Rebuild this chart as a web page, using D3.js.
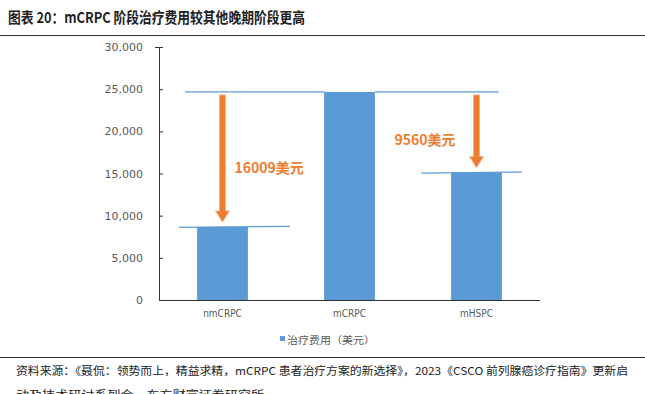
<!DOCTYPE html>
<html>
<head>
<meta charset="utf-8">
<script src="https://cdn.jsdelivr.net/npm/d3@7"></script>
<style>
  body { margin: 0; background: #fff; }
  text { font-family: "Noto Sans CJK SC", "DejaVu Sans", sans-serif; }
</style>
</head>
<body>
<div id="chart"></div>
<script>
// data
var categories = ["nmCRPC", "mCRPC", "mHSPC"];
var costs = [8660, 24669, 15109];
var yTicks = [0, 5000, 10000, 15000, 20000, 25000, 30000];
var gapLabels = ["16009美元", "9560美元"];
var seriesName = "治疗费用（美元）";

var svgWidth = 645;
var svgHeight = 394;

var margin = { top: 47, right: 105, bottom: 94, left: 159 };
var width = svgWidth - margin.left - margin.right;
var height = svgHeight - margin.top - margin.bottom;

var blue = "#5B9BD5";
var orange = "#ED7D31";

var svg = d3.select("#chart")
  .append("svg")
  .attr("width", svgWidth)
  .attr("height", svgHeight);

// title + rules
svg.append("text")
  .attr("x", 8)
  .attr("y", 23)
  .attr("font-size", 15)
  .attr("font-weight", "bold")
  .attr("fill", "#222")
  .attr("textLength", 297)
  .attr("lengthAdjust", "spacingAndGlyphs")
  .text("图表 20：mCRPC 阶段治疗费用较其他晚期阶段更高");

svg.append("line")
  .attr("x1", 0).attr("x2", svgWidth)
  .attr("y1", 35.5).attr("y2", 35.5)
  .attr("stroke", "#333").attr("stroke-width", 1.2);

svg.append("line")
  .attr("x1", 0).attr("x2", svgWidth)
  .attr("y1", 357.5).attr("y2", 357.5)
  .attr("stroke", "#333").attr("stroke-width", 1.2);

svg.append("text")
  .attr("x", 16).attr("y", 375)
  .attr("font-size", 11).attr("fill", "#222")
  .attr("textLength", 612)
  .attr("lengthAdjust", "spacingAndGlyphs")
  .text("资料来源：《聂侃：领势而上，精益求精，mCRPC 患者治疗方案的新选择》，2023《CSCO 前列腺癌诊疗指南》更新启");

svg.append("text")
  .attr("x", 16).attr("y", 399)
  .attr("font-size", 11).attr("fill", "#222")
  .attr("textLength", 248)
  .attr("lengthAdjust", "spacingAndGlyphs")
  .text("动及技术研讨系列会，东方财富证券研究所");

var chartGroup = svg.append("g")
  .attr("transform", `translate(${margin.left}, ${margin.top})`);

var xScale = d3.scaleBand()
  .domain(categories)
  .range([0, width])
  .paddingInner(0.6)
  .paddingOuter(0.3);

var yScale = d3.scaleLinear()
  .domain([0, 30000])
  .range([height, 0]);

// y axis
var leftAxis = d3.axisLeft(yScale)
  .tickValues(yTicks)
  .tickSize(4)
  .tickFormat(d3.format(","));

var yAxis = chartGroup.append("g").call(leftAxis);
yAxis.select(".domain").attr("stroke", "#333").attr("d", `M-4,0.5H0.5V${height}`);
yAxis.selectAll(".tick line").attr("stroke", "#333").attr("x2", 0).attr("x1", 4);
yAxis.selectAll(".tick text")
  .attr("x", -16)
  .attr("font-size", 11)
  .attr("fill", "#595959")
  .style("font-family", "'DejaVu Sans', sans-serif");

// bars
chartGroup.selectAll("rect.bar")
  .data(costs)
  .enter()
  .append("rect")
  .attr("class", "bar")
  .attr("x", (d, i) => xScale(categories[i]))
  .attr("y", d => yScale(d))
  .attr("width", xScale.bandwidth())
  .attr("height", d => height - yScale(d))
  .attr("fill", blue);

// x axis
var bottomAxis = d3.axisBottom(xScale).tickSize(0);
var xAxis = chartGroup.append("g")
  .attr("transform", `translate(0, ${height})`)
  .call(bottomAxis);
xAxis.select(".domain").attr("stroke", "#333").attr("d", `M0,0.5H${width}`);
xAxis.selectAll(".tick text")
  .attr("dy", 0)
  .attr("y", 17)
  .attr("font-size", 10)
  .attr("fill", "#595959")
  .style("font-family", "'Liberation Sans Narrow', 'DejaVu Sans Condensed', sans-serif");

// reference lines (thin blue)
var bw = xScale.bandwidth();
var x0 = xScale(categories[0]), x1 = xScale(categories[1]), x2 = xScale(categories[2]);
var refLines = [
  [x0 - 12, costs[1], x1, costs[1]],
  [x1 + bw, costs[1], x2 + bw - 3, costs[1]],
  [x0 - 18, costs[0] - 60, x0 + bw + 42, costs[0] + 80],
  [x2 - 30, costs[2] - 60, x2 + bw + 20, costs[2] + 60]
];
chartGroup.selectAll("line.ref")
  .data(refLines)
  .enter()
  .append("line")
  .attr("class", "ref")
  .attr("x1", d => d[0]).attr("y1", d => yScale(d[1]))
  .attr("x2", d => d[2]).attr("y2", d => yScale(d[3]))
  .attr("stroke", blue)
  .attr("stroke-width", 1.3);

// arrows
function arrowPath(cx, yTop, yTip) {
  var sw = 3, hw = 7, hh = 11;
  return `M${cx - sw},${yTop}H${cx + sw}V${yTip - hh}H${cx + hw}L${cx},${yTip}L${cx - hw},${yTip - hh}H${cx - sw}Z`;
}
var arrows = [
  { cx: x0 + bw / 2, from: costs[1], to: costs[0], label: gapLabels[0], lx: x0 + bw / 2 + 12, ly: yScale(15050) },
  { cx: x2 + bw / 2, from: costs[1], to: costs[2], label: gapLabels[1], lx: x2 + bw / 2 - 82, ly: yScale(18400) }
];
chartGroup.selectAll("path.arrow")
  .data(arrows)
  .enter()
  .append("path")
  .attr("class", "arrow")
  .attr("d", d => arrowPath(d.cx, yScale(d.from) + 3, yScale(d.to) - 5))
  .attr("fill", orange)
  .attr("stroke", "#F4B183")
  .attr("stroke-width", 1);

chartGroup.selectAll("text.gap")
  .data(arrows)
  .enter()
  .append("text")
  .attr("class", "gap")
  .attr("x", d => d.lx)
  .attr("y", d => d.ly)
  .attr("font-size", 14)
  .attr("font-weight", "bold")
  .attr("fill", orange)
  .text(d => d.label);

// legend
var legend = svg.append("g").attr("transform", "translate(280, 340)");
legend.append("rect")
  .attr("x", 0).attr("y", -4)
  .attr("width", 5).attr("height", 5)
  .attr("fill", blue);
legend.append("text")
  .attr("x", 7).attr("y", 1)
  .attr("dominant-baseline", "middle")
  .attr("font-size", 10)
  .attr("fill", "#595959")
  .attr("textLength", 88)
  .attr("lengthAdjust", "spacingAndGlyphs")
  .text(seriesName);
</script>
</body>
</html>
